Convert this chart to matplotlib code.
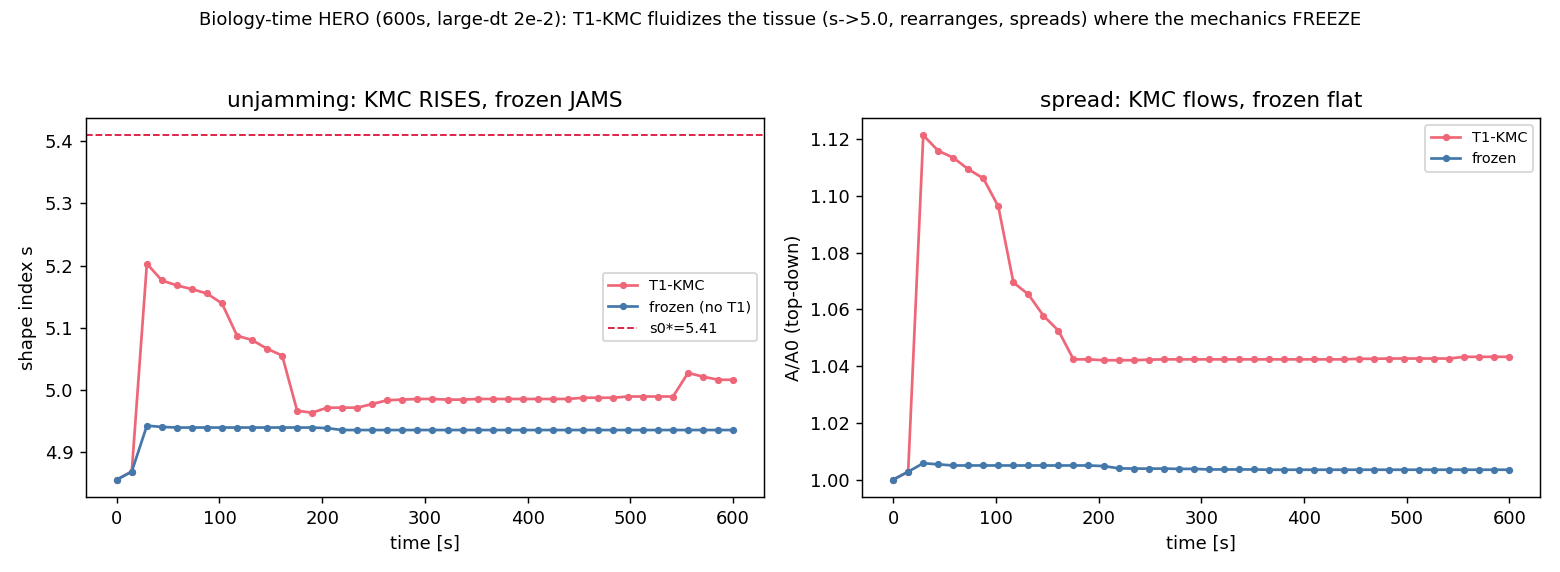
import matplotlib
matplotlib.use("Agg")
import matplotlib.pyplot as plt

# sample times [s]
time_s = [0.0, 14.6, 29.3, 43.9, 58.5, 73.2, 87.8, 102.4, 117.1, 131.7, 146.3,
          161.0, 175.6, 190.2, 204.9, 219.5, 234.1, 248.8, 263.4, 278.0, 292.7,
          307.3, 322.0, 336.6, 351.2, 365.9, 380.5, 395.1, 409.8, 424.4, 439.0,
          453.7, 468.3, 482.9, 497.6, 512.2, 526.8, 541.5, 556.1, 570.7, 585.4, 600.0]

# shape index s
shape_kmc = [4.855, 4.868, 5.203, 5.176, 5.168, 5.162, 5.155, 5.139, 5.087, 5.080,
             5.066, 5.055, 4.966, 4.963, 4.971, 4.971, 4.971, 4.977, 4.983, 4.984,
             4.985, 4.985, 4.984, 4.984, 4.985, 4.985, 4.985, 4.985, 4.985, 4.985,
             4.985, 4.987, 4.987, 4.987, 4.989, 4.989, 4.989, 4.989, 5.027, 5.021,
             5.016, 5.016]
shape_frozen = [4.855, 4.868, 4.942, 4.940, 4.939, 4.939, 4.939, 4.939, 4.939, 4.939,
                4.939, 4.939, 4.939, 4.939, 4.938, 4.935, 4.935, 4.935, 4.935, 4.935,
                4.935, 4.935, 4.935, 4.935, 4.935, 4.935, 4.935, 4.935, 4.935, 4.935,
                4.935, 4.935, 4.935, 4.935, 4.935, 4.935, 4.935, 4.935, 4.935, 4.935,
                4.935, 4.935]
s0_star = 5.41

# projected area A/A0
area_kmc = [1.000, 1.0028, 1.1214, 1.1159, 1.1135, 1.1094, 1.1062, 1.0963, 1.0695,
            1.0653, 1.0578, 1.0525, 1.0424, 1.0424, 1.0421, 1.0421, 1.0421, 1.0423,
            1.0424, 1.0424, 1.0424, 1.0424, 1.0424, 1.0424, 1.0424, 1.0424, 1.0424,
            1.0424, 1.0424, 1.0424, 1.0424, 1.0426, 1.0426, 1.0427, 1.0427, 1.0427,
            1.0427, 1.0427, 1.0433, 1.0433, 1.0433, 1.0433]
area_frozen = [1.000, 1.0028, 1.0058, 1.0054, 1.0050, 1.0050, 1.0050, 1.0050, 1.0050,
               1.0050, 1.0050, 1.0050, 1.0050, 1.0050, 1.0048, 1.0040, 1.0039, 1.0039,
               1.0039, 1.0038, 1.0038, 1.0036, 1.0036, 1.0036, 1.0036, 1.0035, 1.0035,
               1.0035, 1.0035, 1.0035, 1.0035, 1.0035, 1.0035, 1.0035, 1.0035, 1.0035,
               1.0035, 1.0035, 1.0035, 1.0035, 1.0035, 1.0035]

red = "#EE6677"
blue = "#4477AA"

fig = plt.figure(figsize=(12, 4.4), dpi=130)
ax1 = fig.add_axes([0.0551, 0.1313, 0.4897 - 0.0551, 0.7937 - 0.1313])
ax2 = fig.add_axes([0.5528, 0.1313, 0.9872 - 0.5528, 0.7937 - 0.1313])

ax1.plot(time_s, shape_kmc, "-o", color=red, ms=3, lw=1.5, label="T1-KMC")
ax1.plot(time_s, shape_frozen, "-o", color=blue, ms=3, lw=1.5, label="frozen (no T1)")
ax1.axhline(s0_star, color="crimson", ls="--", lw=1, label=f"s0*={s0_star}")
ax1.set_xlabel("time [s]")
ax1.set_ylabel("shape index s")
ax1.set_title("unjamming: KMC RISES, frozen JAMS")
ax1.legend(fontsize=8)

ax2.plot(time_s, area_kmc, "-o", color=red, ms=3, lw=1.5, label="T1-KMC")
ax2.plot(time_s, area_frozen, "-o", color=blue, ms=3, lw=1.5, label="frozen")
ax2.set_xlabel("time [s]")
ax2.set_ylabel("A/A0 (top-down)")
ax2.set_title("spread: KMC flows, frozen flat")
ax2.legend(fontsize=8, loc="upper right")

fig.suptitle("Biology-time HERO (600s, large-dt 2e-2): T1-KMC fluidizes the tissue "
             "(s->5.0, rearranges, spreads) where the mechanics FREEZE",
             fontsize=10, y=0.98)

fig.savefig("out.png", dpi=130)
